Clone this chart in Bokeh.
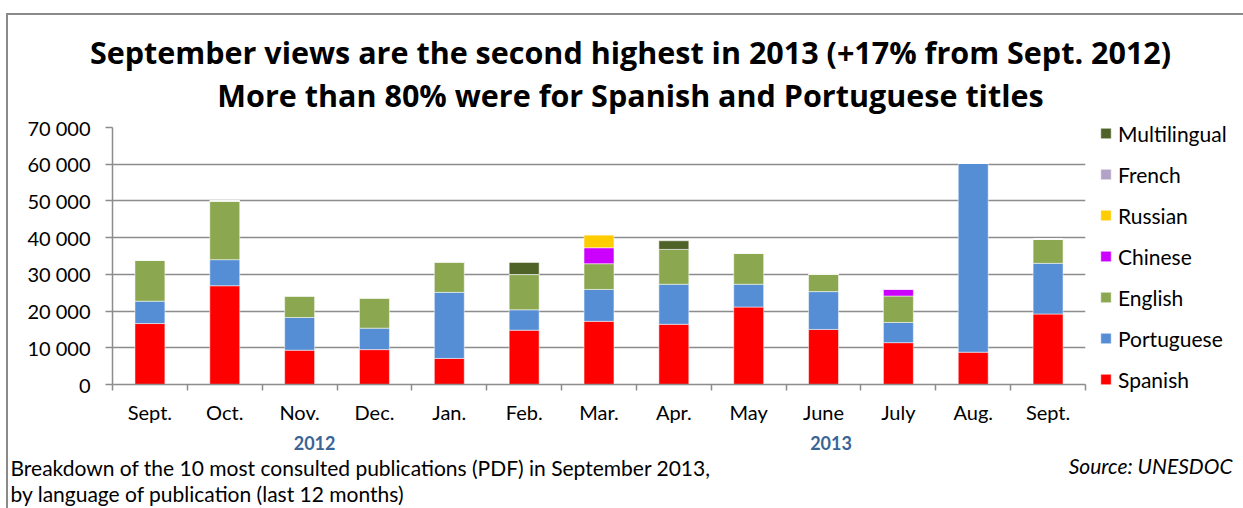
from bokeh.plotting import figure
from bokeh.models import (ColumnDataSource, FixedTicker, Range1d, Legend, LegendItem, Label,
                          LinearAxis)
from bokeh.embed import file_html
from bokeh.resources import INLINE

# ---------------- data ----------------
months = ["Sept.", "Oct.", "Nov.", "Dec.", "Jan.", "Feb.", "Mar.", "Apr.", "May", "June", "July", "Aug.", "Sept."]
spanish = [16600, 26900, 9350, 9500, 7100, 14800, 17200, 16400, 21100, 15000, 11400, 8800, 19200]
portuguese = [6100, 7100, 8900, 5850, 18000, 5550, 8700, 10900, 6200, 10300, 5500, 51400, 13800]
english = [11200, 16000, 5900, 8250, 8300, 9600, 7000, 9500, 8500, 4800, 7200, 0, 6600]
chinese = [0, 0, 0, 0, 0, 0, 4350, 0, 0, 0, 1900, 0, 0]
russian = [0, 0, 0, 0, 0, 0, 3550, 0, 0, 0, 0, 0, 0]
french = [0, 0, 0, 0, 0, 0, 0, 0, 0, 0, 0, 0, 0]
multilingual = [0, 0, 0, 0, 0, 3300, 0, 2350, 0, 0, 0, 0, 0]

series_names = ["Spanish", "Portuguese", "English", "Chinese", "Russian", "French", "Multilingual"]
series_values = [spanish, portuguese, english, chinese, russian, french, multilingual]
series_colors = ["#FF0000", "#558ED5", "#8BA74F", "#CC00FF", "#FFCC00", "#B3A2C7", "#4F6228"]

y_ticks = [0, 10000, 20000, 30000, 40000, 50000, 60000, 70000]
y_tick_labels = ["0", "10 000", "20 000", "30 000", "40 000", "50 000", "60 000", "70 000"]

year_labels = ["2012", "2013"]
year_positions = [2.2, 9.1]

title_lines = ["September views are the second highest in 2013 (+17% from Sept. 2012)",
               "More than 80% were for Spanish and Portuguese titles"]
footnote_lines = ["Breakdown of the 10 most consulted publications  (PDF) in  September 2013,",
                  "by language of publication (last 12 months)"]
source_text = "Source: UNESDOC"

FONT = "Lato"
TFONT = "Open Sans"
GRID = "#8c8c8c"

xs = list(range(len(months)))
data = {"x": xs}
for n, v in zip(series_names, series_values):
    data[n] = v
src = ColumnDataSource(data)

p = figure(frame_width=973, frame_height=257, output_backend="svg", toolbar_location=None,
           x_range=Range1d(-0.5, len(months) - 0.5), y_range=Range1d(0, 70000),
           min_border_left=104, min_border_right=158, min_border_top=112, min_border_bottom=124)
p.margin = (15, 0, 0, 8)
p.styles = {"box-shadow": "-2px -2px 0 0 #8a8a8a"}
p.outline_line_color = None
p.background_fill_color = "white"
p.border_fill_color = "white"
p.title.visible = False

renderers = p.vbar_stack(series_names, x="x", width=0.4, source=src, fill_color=series_colors,
                         line_color="white", line_alpha=0.5, line_width=1)

# axes
p.xaxis.ticker = FixedTicker(ticks=xs, minor_ticks=[i - 0.5 for i in range(len(months) + 1)])
p.xaxis.major_label_overrides = {i: m for i, m in enumerate(months)}
p.xaxis.major_tick_in = 0
p.xaxis.major_tick_out = 0
p.xaxis.minor_tick_in = 0
p.xaxis.minor_tick_out = 6
p.xaxis.minor_tick_line_color = GRID
p.xaxis.minor_tick_line_width = 1.5
p.xaxis.axis_line_color = GRID
p.xaxis.axis_line_width = 1.5
p.xaxis.major_label_standoff = 9
p.xaxis.major_label_text_font = FONT
p.xaxis.major_label_text_font_size = "20px"
p.xaxis.major_label_text_color = "black"

p.yaxis.ticker = FixedTicker(ticks=y_ticks, minor_ticks=[])
p.yaxis.major_label_overrides = {t: l for t, l in zip(y_ticks, y_tick_labels)}
p.yaxis.major_tick_in = 0
p.yaxis.major_tick_out = 7
p.yaxis.major_tick_line_color = GRID
p.yaxis.major_tick_line_width = 1.5
p.yaxis.minor_tick_line_color = None
p.yaxis.axis_line_color = GRID
p.yaxis.axis_line_width = 1.5
p.yaxis.major_label_standoff = 15
p.yaxis.major_label_text_font = FONT
p.yaxis.major_label_text_font_size = "20px"
p.yaxis.major_label_text_color = "black"

p.xgrid.grid_line_color = None
p.ygrid.ticker = FixedTicker(ticks=y_ticks)
p.ygrid.grid_line_color = GRID
p.ygrid.grid_line_width = 1.5

# year axis (second row of category labels)
year_axis = LinearAxis(ticker=FixedTicker(ticks=year_positions, minor_ticks=[]),
                       major_label_overrides={pos: lab for pos, lab in zip(year_positions, year_labels)},
                       axis_line_color=None, major_tick_line_color=None, minor_tick_line_color=None,
                       major_label_standoff=3,
                       major_label_text_font=FONT, major_label_text_font_style="bold",
                       major_label_text_font_size="18px", major_label_text_color="#3B6496")
p.add_layout(year_axis, "below")

# legend (reverse order, Multilingual on top)
items = [LegendItem(label=n, renderers=[r]) for n, r in zip(series_names, renderers)][::-1]
legend = Legend(items=items, location="center_left", orientation="vertical",
                glyph_width=13, glyph_height=13, label_height=24, spacing=16,
                label_standoff=6, padding=0, margin=14,
                border_line_color=None, background_fill_alpha=0,
                label_text_font=FONT, label_text_font_size="21px", label_text_color="black")
p.add_layout(legend, "right")

# titles as labels in the top panel (first added sits closest to the plot)
for txt, yy in zip(title_lines[::-1], [33, 34]):
    p.add_layout(Label(x=518, y=yy, x_units="screen", y_units="screen", text=txt,
                       text_align="center", text_baseline="alphabetic",
                       text_font=TFONT, text_font_style="bold", text_font_size="30.5px",
                       text_color="black"), "above")

# footnote and source in the bottom panel
for txt, yy in zip(footnote_lines, [10, 9]):
    p.add_layout(Label(x=-102, y=yy, x_units="screen", y_units="screen", text=txt,
                       text_align="left", text_baseline="alphabetic",
                       text_font=FONT, text_font_size="21px", text_color="black"), "below")

p.add_layout(Label(x=1120, y=62, x_units="screen", y_units="screen", text=source_text,
                   text_align="right", text_baseline="alphabetic",
                   text_font=FONT, text_font_style="italic", text_font_size="21px",
                   text_color="black"), "below")

open("out.html", "w").write(file_html(p, INLINE))
